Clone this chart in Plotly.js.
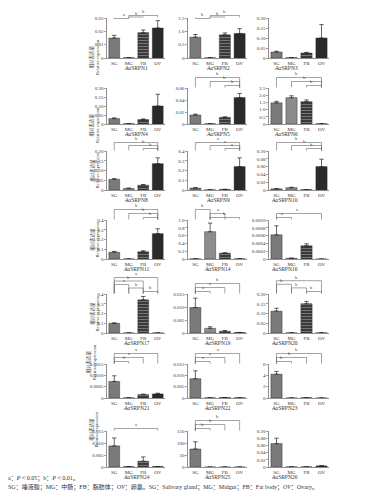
<!DOCTYPE html>
<html><head><meta charset="utf-8">
<script src="https://cdn.plot.ly/plotly-3.0.1.min.js"></script>
<style>html,body{margin:0;padding:0;background:#fff}#chart{width:367px;height:501px}</style>
</head><body><div id="chart"></div>
<script>
const tissues = ['SG','MG','FB','OV'];
const geneNames = ['AaSRPN1','AaSRPN2','AaSRPN3','AaSRPN4','AaSRPN5','AaSRPN6','AaSRPN8','AaSRPN9','AaSRPN10',
  'AaSRPN11','AaSRPN14','AaSRPN16','AaSRPN17','AaSRPN19','AaSRPN20','AaSRPN21','AaSRPN22','AaSRPN23',
  'AaSRPN24','AaSRPN25','AaSRPN26'];

// mean relative expression (SG, MG, FB, OV) and upper error
const SRPN1 = [0.015, 0.0003, 0.019, 0.0225];   const SRPN1_err = [0.002, 0, 0.002, 0.0055];
const SRPN2 = [0.78, 0.01, 0.87, 0.92];          const SRPN2_err = [0.1, 0, 0.07, 0.18];
const SRPN3 = [0.03, 0.002, 0.025, 0.10];        const SRPN3_err = [0.004, 0, 0.003, 0.067];
const SRPN4 = [0.03, 0.002, 0.025, 0.10];        const SRPN4_err = [0.004, 0, 0.003, 0.065];
const SRPN5 = [0.015, 0.0005, 0.011, 0.044];     const SRPN5_err = [0.0015, 0, 0.001, 0.007];
const SRPN6 = [1.47, 1.83, 1.55, 0.02];          const SRPN6_err = [0.1, 0.13, 0.12, 0];
const SRPN8 = [0.055, 0.008, 0.025, 0.135];      const SRPN8_err = [0.003, 0.002, 0.003, 0.03];
const SRPN9 = [0.02, 0.002, 0.006, 0.24];        const SRPN9_err = [0.004, 0, 0.001, 0.09];
const SRPN10 = [0.003, 0.006, 0.001, 0.060];     const SRPN10_err = [0.0005, 0.001, 0, 0.019];
const SRPN11 = [0.07, 0.001, 0.075, 0.26];       const SRPN11_err = [0.008, 0, 0.01, 0.05];
const SRPN14 = [0.005, 0.70, 0.15, 0.005];       const SRPN14_err = [0, 0.22, 0.01, 0];
const SRPN16 = [0.00062, 0.00002, 0.00034, 0];   const SRPN16_err = [0.00023, 0, 0.00005, 0];
const SRPN17 = [0.10, 0.001, 0.34, 0.001];       const SRPN17_err = [0.003, 0, 0.035, 0];
const SRPN19 = [0.0098, 0.0018, 0.0007, 0.0002]; const SRPN19_err = [0.0036, 0.0006, 0.0002, 0];
const SRPN20 = [0.112, 0.001, 0.15, 0.001];      const SRPN20_err = [0.015, 0, 0.012, 0];
const SRPN21 = [0.00073, 0.00001, 0.00015, 0.00018]; const SRPN21_err = [0.00025, 0, 0.00002, 0.00003];
const SRPN22 = [0.0085, 0.0001, 0.0002, 0.0001]; const SRPN22_err = [0.0035, 0, 0, 0];
const SRPN23 = [4.2, 0.01, 0.05, 0.01];          const SRPN23_err = [0.5, 0, 0, 0];
const SRPN24 = [0.0088, 0.0002, 0.0024, 0.0002]; const SRPN24_err = [0.0033, 0, 0.0018, 0];
const SRPN25 = [75, 0, 0, 0];                    const SRPN25_err = [30, 0, 0, 0];
const SRPN26 = [0.065, 0.0005, 0.0005, 0.003];   const SRPN26_err = [0.015, 0, 0, 0.001];

// y tick labels
const ticks1 = ['0','0.01','0.02','0.03'];
const ticks2 = ['0','0.5','1.0','1.5'];
const ticks3 = ['0','0.05','0.10','0.15','0.20'];
const ticks4 = ['0','0.05','0.10','0.15','0.20'];
const ticks5 = ['0','0.02','0.04','0.06'];
const ticks6 = ['0','0.5','1.0','1.5','2.0','2.5'];
const ticks8 = ['0','0.05','0.10','0.15','0.20'];
const ticks9 = ['0','0.1','0.2','0.3','0.4'];
const ticks10 = ['0','0.02','0.04','0.06','0.08','0.10'];
const ticks11 = ['0','0.1','0.2','0.3','0.4'];
const ticks14 = ['0','0.2','0.4','0.6','0.8','1.0'];
const ticks16 = ['0','0.0002','0.0004','0.0006','0.0008','0.0010'];
const ticks17 = ['0','0.1','0.2','0.3','0.4'];
const ticks19 = ['0','0.005','0.010','0.015'];
const ticks20 = ['0','0.05','0.10','0.15','0.20'];
const ticks21 = ['0','0.0005','0.0010','0.0015'];
const ticks22 = ['0','0.005','0.010','0.015'];
const ticks23 = ['0','2','4','6'];
const ticks24 = ['0','0.005','0.010','0.015'];
const ticks25 = ['0','50','100','150'];
const ticks26 = ['0','0.02','0.04','0.06','0.08','0.10'];

// significance brackets, top first: [from, to, label]
const sig1 = [['SG','MG','a'],['MG','FB','b'],['MG','OV','b']];
const sig2 = [['SG','MG','b'],['MG','FB','b'],['MG','OV','b']];
const sig3 = [];
const sig4 = [];
const sig5 = [['SG','OV','b'],['MG','OV','b'],['FB','OV','b']];
const sig6 = [['SG','OV','b'],['MG','OV','b'],['FB','OV','b']];
const sig8 = [['SG','OV','b'],['MG','OV','b'],['FB','OV','b']];
const sig9 = [['SG','OV','a'],['MG','OV','a'],['FB','OV','a']];
const sig10 = [['SG','OV','b'],['MG','OV','b'],['FB','OV','b']];
const sig11 = [['SG','OV','b'],['MG','OV','b'],['FB','OV','b']];
const sig14 = [['SG','MG','b'],['MG','FB','a'],['MG','OV','b']];
const sig16 = [['SG','OV','a'],['SG','MG','a']];
const sig17 = [['SG','OV','a'],['SG','FB','b'],['SG','MG','a'],['MG','FB','b'],['FB','OV','b']];
const sig19 = [['SG','OV','b'],['SG','FB','a'],['SG','MG','a']];
const sig20 = [['SG','OV','b'],['SG','MG','b'],['MG','FB','b'],['FB','OV','b']];
const sig21 = [['SG','OV','a'],['SG','FB','a'],['SG','MG','b']];
const sig22 = [['SG','OV','a'],['SG','FB','a'],['SG','MG','a']];
const sig23 = [['SG','OV','b'],['SG','FB','b'],['SG','MG','b']];
const sig24 = [['SG','OV','a']];
const sig25 = [['SG','OV','b'],['SG','FB','b'],['SG','MG','b']];
const sig26 = [];

const panels = [
  [SRPN1,SRPN1_err,ticks1,sig1],[SRPN2,SRPN2_err,ticks2,sig2],[SRPN3,SRPN3_err,ticks3,sig3],
  [SRPN4,SRPN4_err,ticks4,sig4],[SRPN5,SRPN5_err,ticks5,sig5],[SRPN6,SRPN6_err,ticks6,sig6],
  [SRPN8,SRPN8_err,ticks8,sig8],[SRPN9,SRPN9_err,ticks9,sig9],[SRPN10,SRPN10_err,ticks10,sig10],
  [SRPN11,SRPN11_err,ticks11,sig11],[SRPN14,SRPN14_err,ticks14,sig14],[SRPN16,SRPN16_err,ticks16,sig16],
  [SRPN17,SRPN17_err,ticks17,sig17],[SRPN19,SRPN19_err,ticks19,sig19],[SRPN20,SRPN20_err,ticks20,sig20],
  [SRPN21,SRPN21_err,ticks21,sig21],[SRPN22,SRPN22_err,ticks22,sig22],[SRPN23,SRPN23_err,ticks23,sig23],
  [SRPN24,SRPN24_err,ticks24,sig24],[SRPN25,SRPN25_err,ticks25,sig25],[SRPN26,SRPN26_err,ticks26,sig26]
];

// layout geometry (pixels)
const W = 367, H = 501;
const cols = [[107,165],[188,247],[269,329]];
const rows = [[18,58],[88,124],[151,190],[220,259],[294,333],[364,398],[431,467]];
const SERIF = 'Liberation Serif, Times New Roman, serif';
const CJK = 'Liberation Serif, Noto Sans CJK SC, serif';
const barColors = ['#7a7a7a','#8c8c8c','#3a3a3a','#2a2a2a'];

const px = x => x / W;
const py = y => 1 - y / H;

const data = [], shapes = [], annotations = [];
const layout = {
  width: W, height: H, margin: {l:0,r:0,t:0,b:0},
  paper_bgcolor: '#fff', plot_bgcolor: '#fff', showlegend: false, bargap: 0.25,
  shapes, annotations
};

panels.forEach((p, i) => {
  const [vals, errs, tk, sig] = p;
  const c = i % 3, r = Math.floor(i / 3);
  const [x0, x1] = cols[c], [top, bot] = rows[r];
  const n = i + 1, sx = n === 1 ? '' : n;
  const tv = tk.map(Number);
  data.push({
    type: 'bar', x: tissues, y: vals, xaxis: 'x' + sx, yaxis: 'y' + sx,
    marker: {color: barColors, line: {color: '#222', width: 0.4},
      pattern: {shape: ['', '', '-', ''], fillmode: 'overlay', fgcolor: '#6e6e6e', size: 3, solidity: 0.2}},
    error_y: {type: 'data', symmetric: false, array: errs, arrayminus: errs.map(() => 0),
      color: '#222', thickness: 0.7, width: 2.2},
    hoverinfo: 'skip'
  });
  layout['xaxis' + sx] = {
    domain: [px(x0), px(x1)], anchor: 'y' + sx, type: 'category', range: [-0.5, 3.5],
    showline: true, linecolor: '#444', linewidth: 0.6, ticks: '', showgrid: false, zeroline: false,
    tickfont: {family: SERIF, size: 5, color: '#333'}, fixedrange: true
  };
  layout['yaxis' + sx] = {
    domain: [py(bot), py(top)], anchor: 'x' + sx, range: [0, tv[tv.length - 1]],
    tickvals: tv, ticktext: tk, showline: true, linecolor: '#444', linewidth: 0.6,
    ticks: 'outside', ticklen: 2, tickwidth: 0.5, tickcolor: '#444', showgrid: false, zeroline: false,
    tickfont: {family: SERIF, size: 5, color: '#333'}, fixedrange: true
  };
  // gene name
  annotations.push({
    xref: 'paper', yref: 'paper', x: px((x0 + x1) / 2), y: py(bot + 9.5), yanchor: 'middle', showarrow: false,
    text: '<i>Aa</i>' + geneNames[i].slice(2), font: {family: SERIF, size: 5.5, color: '#333'}, borderpad: 0
  });
  // y title on first column
  if (c === 0) {
    const maxLen = Math.max(...tk.map(s => s.length));
    const xc = Math.min(87, x0 - 4 - maxLen * 2.5 - 4);
    annotations.push({
      xref: 'paper', yref: 'paper', x: px(xc), y: py((top + bot) / 2), textangle: -90, showarrow: false,
      text: '相对表达量<br>Relative expression', font: {family: CJK, size: 4.5, color: '#444'}, borderpad: 0
    });
  }
  // brackets
  const cw = (x1 - x0) / 4;
  const cx = t => x0 + cw * (tissues.indexOf(t) + 0.5);
  const prevBot = r === 0 ? 0 : rows[r - 1][1];
  const lowest = top - 2.5;
  let step = sig.length >= 4 ? 3.6 : 4;
  if (sig.length > 1) {
    const yTopMin = prevBot + 18.5;
    if (lowest - (sig.length - 1) * step < yTopMin) step = (lowest - yTopMin) / (sig.length - 1);
  }
  sig.forEach((s, k) => {
    const yy = lowest - (sig.length - 1 - k) * step;
    const xa = cx(s[0]), xb = cx(s[1]);
    shapes.push({type: 'path', xref: 'paper', yref: 'paper',
      path: `M${px(xa)},${py(top - 0.5)} L${px(xa)},${py(yy)} L${px(xb)},${py(yy)} L${px(xb)},${py(top - 0.5)}`,
      line: {color: '#666', width: 0.6}});
    annotations.push({
      xref: 'paper', yref: 'paper', x: px((xa + xb) / 2), y: py(yy - 0.2), yanchor: 'bottom', showarrow: false,
      text: s[2], font: {family: SERIF, size: 4.5, color: '#444'}, borderpad: 0
    });
  });
});

// footnotes
annotations.push({
  xref: 'paper', yref: 'paper', x: px(7), y: py(483), xanchor: 'left', showarrow: false,
  text: 'a：<i>P</i> < 0.05；b：<i>P</i> < 0.01。', font: {family: CJK, size: 6, color: '#333'}, borderpad: 0
});
annotations.push({
  xref: 'paper', yref: 'paper', x: px(7), y: py(491.5), xanchor: 'left', showarrow: false,
  text: 'SG：唾液腺；MG：中肠；FB：脂肪体；<i>OV</i>：卵巢。SG：Salivary gland；MG：Midgut；FB：Fat body；<i>OV</i>：Ovary。',
  font: {family: CJK, size: 6, color: '#333'}, borderpad: 0
});

Plotly.newPlot('chart', data, layout, {staticPlot: true, displayModeBar: false});
</script>
</body></html>
